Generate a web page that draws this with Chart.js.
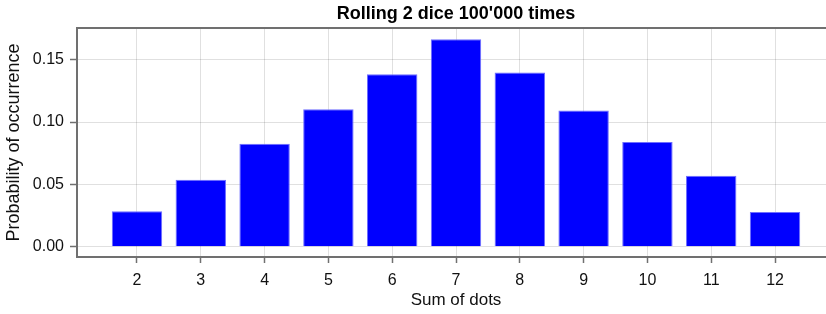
<!DOCTYPE html>
<html>
<head>
<meta charset="utf-8">
<script src="https://cdn.jsdelivr.net/npm/chart.js@4"></script>
<style>
  body { margin: 0; overflow: hidden; background: #fff; }
  canvas { display: block; }
</style>
</head>
<body>
<canvas id="grafico" width="835" height="314"></canvas>
<script>
// Dados
var somas = [2, 3, 4, 5, 6, 7, 8, 9, 10, 11, 12];
var probabilidades = [0.0284, 0.0537, 0.0825, 0.1103, 0.1384, 0.1664, 0.1397, 0.1092, 0.0841, 0.0569, 0.0278];
var ticksY = [0.00, 0.05, 0.10, 0.15];

var corEixo = '#707070';
var corGrade = 'rgba(0,0,0,0.12)';
var fonte = "'Liberation Sans', Arial, sans-serif";

// Linha superior da moldura
var moldura = {
  id: 'moldura',
  afterDraw: function(chart) {
    var ctx = chart.ctx;
    var a = chart.chartArea;
    ctx.save();
    ctx.strokeStyle = corEixo;
    ctx.lineWidth = 2;
    ctx.beginPath();
    ctx.moveTo(a.left - 1, a.top);
    ctx.lineTo(a.right, a.top);
    ctx.stroke();
    ctx.restore();
  }
};

function gerarGrafico(grafico) {
  new Chart(grafico, {
    type: 'bar',
    data: {
      datasets: [{
        data: somas.map(function(s, i) { return { x: s, y: probabilidades[i] }; }),
        backgroundColor: '#0000ff',
        borderColor: 'rgba(110,110,255,1)',
        borderWidth: 1,
        barPercentage: 0.79,
        categoryPercentage: 1
      }]
    },
    options: {
      responsive: false,
      animation: false,
      layout: { padding: 0 },
      plugins: {
        legend: { display: false },
        tooltip: { enabled: false },
        title: {
          display: true,
          text: "Rolling 2 dice 100'000 times",
          fullSize: false,
          color: '#000',
          font: { family: fonte, size: 18, weight: 'bold', lineHeight: 1.2 },
          padding: { top: 3, bottom: 3.4 }
        }
      },
      scales: {
        x: {
          type: 'linear',
          min: 1.06,
          max: 12.94,
          offset: false,
          afterBuildTicks: function(eixo) {
            eixo.ticks = somas.map(function(v) { return { value: v }; });
          },
          afterFit: function(eixo) { eixo.height = 57; },
          grid: {
            offset: false,
            color: corGrade,
            lineWidth: 1,
            tickColor: corEixo,
            tickLength: 6,
            tickWidth: 1.5
          },
          border: { color: corEixo, width: 2 },
          ticks: {
            color: '#111',
            padding: 7.5,
            font: { family: fonte, size: 16 },
            callback: function(v) { return v; }
          },
          title: {
            display: true,
            text: 'Sum of dots',
            color: '#111',
            font: { family: fonte, size: 17 },
            padding: { top: 0, bottom: 3.8 }
          }
        },
        y: {
          min: -0.0083,
          max: 0.1755,
          afterBuildTicks: function(eixo) {
            eixo.ticks = ticksY.map(function(v) { return { value: v }; });
          },
          afterFit: function(eixo) { eixo.width = 77; },
          grid: {
            color: corGrade,
            lineWidth: 1,
            tickColor: corEixo,
            tickLength: 7,
            tickWidth: 1.5
          },
          border: { color: corEixo, width: 2 },
          ticks: {
            color: '#111',
            padding: 6,
            font: { family: fonte, size: 16 },
            callback: function(v) { return v.toFixed(2); }
          },
          title: {
            display: true,
            text: 'Probability of occurrence',
            color: '#111',
            font: { family: fonte, size: 18 },
            padding: { top: 3.2, bottom: 0 }
          }
        }
      }
    },
    plugins: [moldura]
  });
}

window.addEventListener('DOMContentLoaded', function() {
  gerarGrafico(document.getElementById('grafico'));
});
</script>
</body>
</html>
